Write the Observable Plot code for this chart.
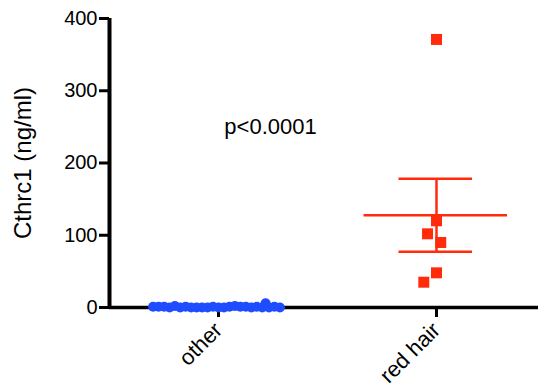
<!DOCTYPE html>
<html><head><meta charset="utf-8">
<script src="https://cdn.jsdelivr.net/npm/d3@7"></script>
<script src="https://cdn.jsdelivr.net/npm/@observablehq/plot@0.6"></script>
<style>body{margin:0;background:#fff}</style>
</head><body><div id="chart"></div>
<script>
const categories = ["other", "red hair"];
const otherValues = [0, 1, 0, 1, 0, 0, 2, 1, 0, 1, 0, 0, 1, 1, 0, 0, 2, 6, 0, 0, 1, 1, 1, 0, 1];
const redHairValues = [371, 120, 102, 90, 48, 35];
const yTicks = [0, 100, 200, 300, 400];
const yLabel = "Cthrc1 (ng/ml)";
const pLabel = "p<0.0001";

const blue = "#1f4cff";
const red = "#ff2b0a";

const otherData = otherValues.map(v => ({group: categories[0], value: v}));
const redData = redHairValues.map(v => ({group: categories[1], value: v}));
const mean = d3.mean(redHairValues);
const sem = d3.deviation(redHairValues) / Math.sqrt(redHairValues.length);
const stats = [{group: categories[1], mean, lo: mean - sem, hi: mean + sem}];

const plot = Plot.plot({
  width: 538, height: 387,
  marginLeft: 108, marginRight: -7, marginTop: 18, marginBottom: 80,
  style: {fontFamily: "'Liberation Sans', Arial, sans-serif", fontSize: "20px", color: "#000", background: "#fff", overflow: "visible"},
  fx: {domain: categories, padding: 0},
  x: {domain: [0, 1], axis: null},
  y: {domain: [0, 400]},
  marks: [
    Plot.axisY(yTicks, {tickSize: 10, tickPadding: 2, strokeWidth: 3, label: null, fontSize: 20}),
    Plot.axisFx({anchor: "bottom", tickSize: 10, tickPadding: 9, tickRotate: -45, strokeWidth: 3, fontSize: 22, label: null}),
    Plot.ruleY([0], {strokeWidth: 3.5}),
    Plot.ruleX([{group: categories[0]}], {x: 0, y1: 0, y2: 400, fx: "group", strokeWidth: 4}),
    Plot.text([{group: categories[0]}], {fx: "group", text: () => yLabel, frameAnchor: "left", dx: -86, rotate: -90, textAnchor: "middle", lineAnchor: "middle", fontSize: 24}),
    Plot.ruleX(stats, {x: null, y1: "lo", y2: "hi", fx: "group", stroke: red, strokeWidth: 2.5}),
    Plot.tickY(stats, {y: "mean", fx: "group", stroke: red, strokeWidth: 2.5, insetLeft: 36.5, insetRight: 38}),
    Plot.tickY(stats, {y: "lo", fx: "group", stroke: red, strokeWidth: 2.5, insetLeft: 71.5, insetRight: 73}),
    Plot.tickY(stats, {y: "hi", fx: "group", stroke: red, strokeWidth: 2.5, insetLeft: 71.5, insetRight: 73}),
    Plot.dot(otherData, Plot.dodgeX({anchor: "middle", padding: -4.5}, {y: "value", fx: "group", r: 5, fill: blue})),
    Plot.dot(redData, Plot.dodgeX({anchor: "middle", padding: 3.4}, {y: "value", fx: "group", r: 6.2, symbol: "square", fill: red})),
    Plot.text([{group: categories[0]}], {fx: "group", text: () => pLabel, frameAnchor: "top-right", dx: -57, dy: 108, textAnchor: "middle", lineAnchor: "middle", fontSize: 22})
  ]
});
document.getElementById("chart").appendChild(plot);
</script>
</body></html>
